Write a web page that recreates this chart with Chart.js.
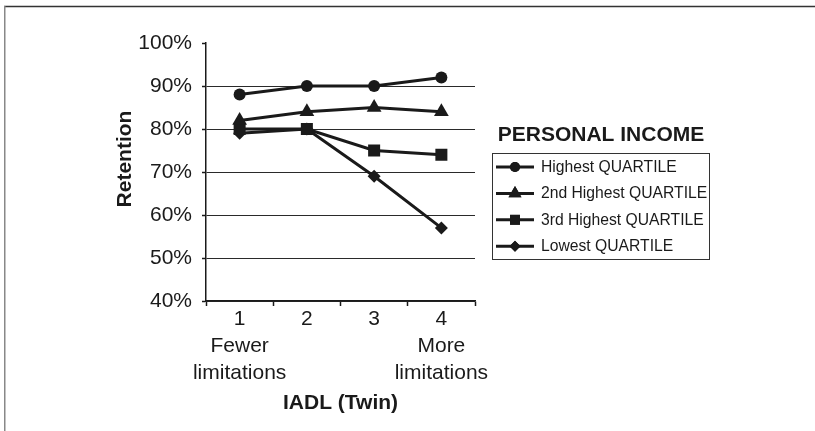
<!DOCTYPE html>
<html>
<head>
<meta charset="utf-8">
<script src="https://cdn.jsdelivr.net/npm/chart.js@4.4.1/dist/chart.umd.min.js"></script>
<style>
  html, body { margin: 0; padding: 0; background: #fff; }
  #wrap { width: 815px; height: 431px; }
</style>
</head>
<body>
<div id="wrap"><canvas id="c" width="815" height="431"></canvas></div>
<script>
// ---- data ----
const categories = [["1", "Fewer", "limitations"], ["2"], ["3"], ["4", "More", "limitations"]];
const seriesNames = ["Highest QUARTILE", "2nd Highest QUARTILE", "3rd Highest QUARTILE", "Lowest QUARTILE"];
const highestQuartile = [88, 90, 90, 92];
const secondHighestQuartile = [82, 84, 85, 84];
const thirdHighestQuartile = [80, 80, 75, 74];
const lowestQuartile = [79, 80, 69, 57];
const yTicks = [40, 50, 60, 70, 80, 90, 100];
const xTitle = "IADL (Twin)";
const yTitle = "Retention";
const legendTitle = "PERSONAL INCOME";

const FONT = "'Liberation Sans', Arial, Helvetica, sans-serif";
const INK = "#1a1a1a";
const styles = [
  { pointStyle: "circle", radius: 6, legendRadius: 5 },
  { pointStyle: "triangle", radius: 8.5, legendRadius: 7.5 },
  { pointStyle: "rect", radius: 8.5, legendRadius: 7 },
  { pointStyle: "rectRot", radius: 6.5, legendRadius: 5.5 }
];
const seriesValues = [highestQuartile, secondHighestQuartile, thirdHighestQuartile, lowestQuartile];

const datasets = seriesValues.map((vals, i) => ({
  label: seriesNames[i],
  data: vals,
  borderColor: INK,
  backgroundColor: INK,
  borderWidth: 3,
  tension: 0,
  pointStyle: styles[i].pointStyle,
  pointRadius: styles[i].radius,
  pointHoverRadius: styles[i].radius,
  pointBackgroundColor: INK,
  pointBorderColor: INK,
  pointBorderWidth: 0
}));

const framePlugin = {
  id: "frame",
  beforeDraw(chart) {
    const ctx = chart.ctx;
    ctx.save();
    ctx.fillStyle = "#fff";
    ctx.fillRect(0, 0, chart.width, chart.height);
    ctx.strokeStyle = "#333";
    ctx.lineWidth = 1.5;
    ctx.beginPath();
    ctx.moveTo(4, 6.5);
    ctx.lineTo(chart.width, 6.5);
    ctx.stroke();
    ctx.strokeStyle = "#888";
    ctx.beginPath();
    ctx.moveTo(4.75, 6);
    ctx.lineTo(4.75, chart.height);
    ctx.stroke();
    ctx.restore();
  }
};

const yTitlePlugin = {
  id: "ytitle",
  afterDraw(chart) {
    const ctx = chart.ctx;
    ctx.save();
    ctx.translate(125.5, 159);
    ctx.rotate(-Math.PI / 2);
    ctx.font = "bold 21px " + FONT;
    ctx.fillStyle = INK;
    ctx.textAlign = "center";
    ctx.textBaseline = "middle";
    ctx.fillText(yTitle, 0, 0);
    ctx.restore();
  }
};

const legendPlugin = {
  id: "boxLegend",
  afterDraw(chart) {
    const ctx = chart.ctx;
    ctx.save();
    ctx.fillStyle = INK;
    ctx.font = "bold 21px " + FONT;
    ctx.textAlign = "center";
    ctx.textBaseline = "middle";
    ctx.fillText(legendTitle, 601, 135.5);
    ctx.strokeStyle = "#333";
    ctx.lineWidth = 1;
    ctx.strokeRect(492.5, 153.5, 217, 106);
    ctx.font = "15.7px " + FONT;
    ctx.textAlign = "left";
    chart.data.datasets.forEach((ds, i) => {
      const y = 167 + i * 26.4;
      ctx.strokeStyle = INK;
      ctx.lineWidth = 3;
      ctx.beginPath();
      ctx.moveTo(496, y);
      ctx.lineTo(534, y);
      ctx.stroke();
      ctx.fillStyle = INK;
      Chart.helpers.drawPoint(ctx, { pointStyle: styles[i].pointStyle, radius: styles[i].legendRadius, borderWidth: 0, rotation: 0 }, 515, y);
      ctx.fill();
      ctx.fillStyle = INK;
      ctx.fillText(ds.label, 541, y + 0.5);
    });
    ctx.restore();
  }
};

new Chart(document.getElementById("c"), {
  type: "line",
  data: { labels: categories, datasets },
  plugins: [framePlugin, yTitlePlugin, legendPlugin],
  options: {
    responsive: false,
    animation: false,
    events: [],
    layout: { padding: { left: 109, right: 340, top: 43, bottom: 0 } },
    plugins: { legend: { display: false }, tooltip: { enabled: false } },
    scales: {
      x: {
        type: "category",
        offset: true,
        afterFit(s) { s.height = 130; },
        grid: { offset: true, drawOnChartArea: false, drawTicks: true, tickLength: 5, tickColor: INK, tickWidth: 1.5 },
        border: { display: true, color: INK, width: 1.5 },
        ticks: { color: INK, padding: 0, font: { family: FONT, size: 21, lineHeight: 1.28 }, maxRotation: 0, autoSkip: false },
        title: { display: true, text: xTitle, color: INK, font: { family: FONT, size: 21, weight: "bold", lineHeight: 1.2 }, padding: { top: 4, bottom: 15 } }
      },
      y: {
        min: 40,
        max: 100,
        afterFit(s) { s.width = 97; },
        afterBuildTicks(s) { s.ticks = yTicks.map(v => ({ value: v })); },
        grid: {
          color: c => (c.tick && c.tick.value === 100) ? "rgba(0,0,0,0)" : "#2a2a2a",
          lineWidth: 1,
          drawTicks: true,
          tickLength: 4,
          tickColor: INK,
          tickWidth: 1.5
        },
        border: { display: true, color: INK, width: 1.5 },
        ticks: { color: INK, padding: 10, font: { family: FONT, size: 21 }, callback: v => v + "%" },
        title: { display: false }
      }
    }
  }
});
</script>
</body>
</html>
